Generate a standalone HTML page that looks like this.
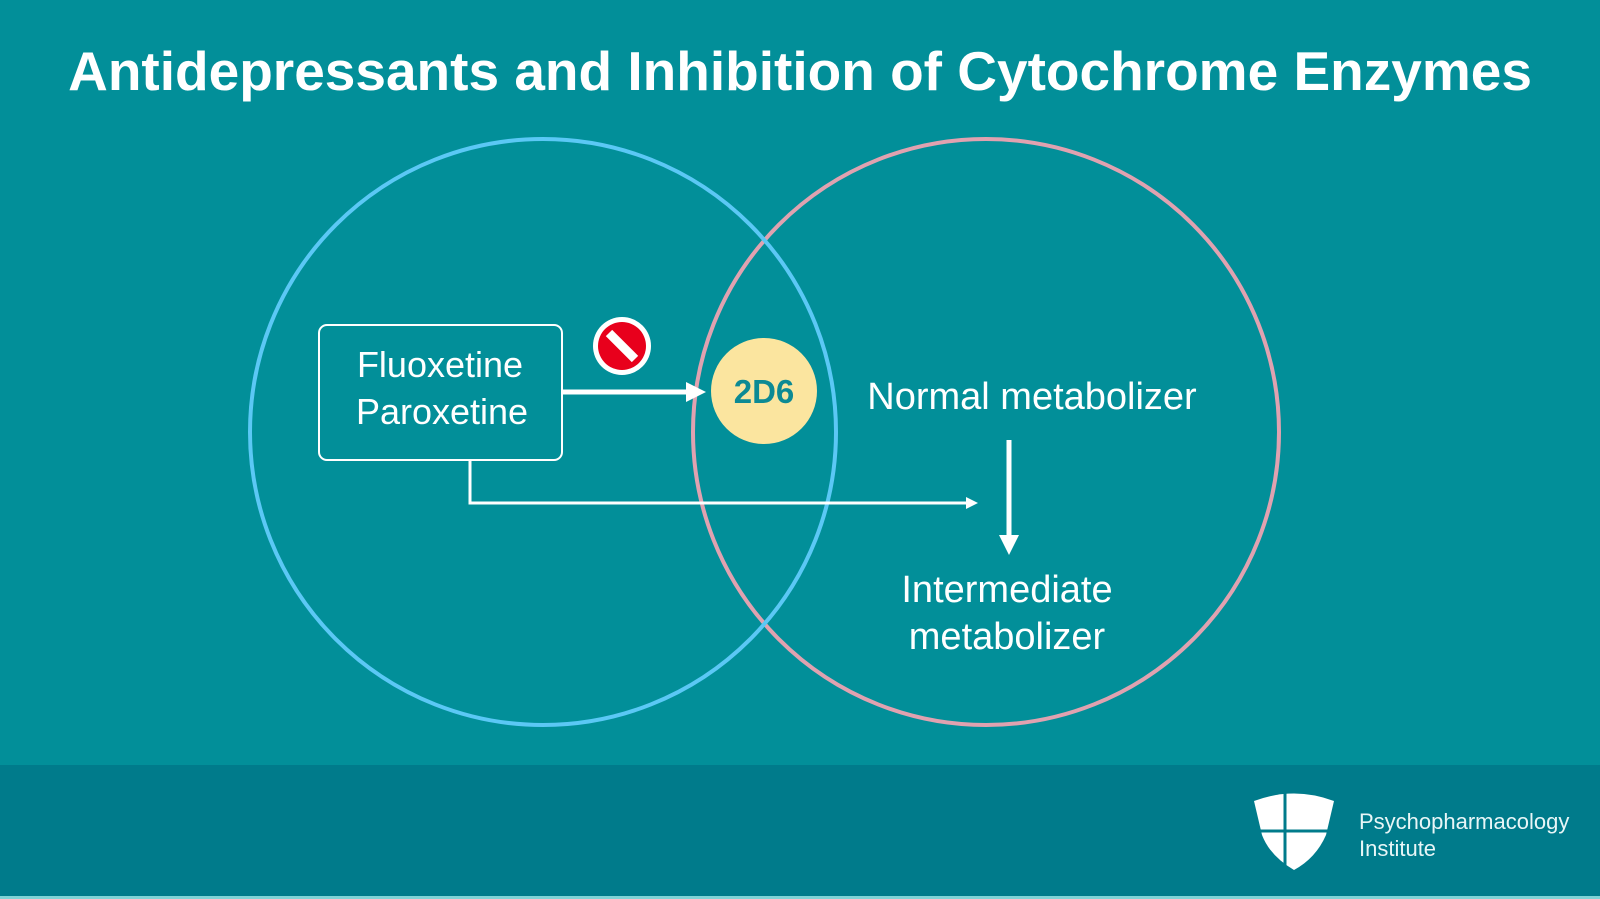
<!DOCTYPE html>
<html><head><style>
body{margin:0;width:1600px;height:899px;overflow:hidden;background:#018f99;font-family:"Liberation Sans",sans-serif;}
</style></head><body>
<svg width="1600" height="899" style="position:absolute;left:0;top:0">
<rect x="0" y="0" width="1600" height="765" fill="#028f99"/>
<rect x="0" y="765" width="1600" height="132" fill="#007b8b"/>
<rect x="0" y="896" width="1600" height="3" fill="#7fd3d6"/>
<text x="800" y="90" text-anchor="middle" fill="#fff" font-size="55" font-weight="bold" font-family="Liberation Sans, sans-serif">Antidepressants and Inhibition of Cytochrome Enzymes</text>
<circle cx="986" cy="432" r="293" fill="none" stroke="#e0a2b0" stroke-width="4"/>
<circle cx="543" cy="432" r="293" fill="none" stroke="#5bc8f5" stroke-width="4"/>
<rect x="319" y="325" width="243" height="135" rx="8" fill="none" stroke="#fff" stroke-width="2"/>
<text x="440" y="377" text-anchor="middle" fill="#fff" font-size="36">Fluoxetine</text>
<text x="442" y="424" text-anchor="middle" fill="#fff" font-size="36">Paroxetine</text>
<line x1="562" y1="392" x2="688" y2="392" stroke="#fff" stroke-width="5"/>
<polygon points="686,382 706,392 686,402" fill="#fff"/>
<circle cx="622" cy="346" r="29" fill="#fff"/>
<circle cx="622" cy="346" r="24" fill="#e8001c"/>
<line x1="609" y1="333" x2="635" y2="359" stroke="#fff" stroke-width="9"/>
<circle cx="764" cy="391" r="53" fill="#fbe59f"/>
<text x="764" y="403" text-anchor="middle" fill="#0c8a94" font-size="33" font-weight="bold">2D6</text>
<text x="1032" y="409" text-anchor="middle" fill="#fff" font-size="38">Normal metabolizer</text>
<polyline points="470,460 470,503 968,503" fill="none" stroke="#fff" stroke-width="3"/>
<polygon points="966,497 978,503 966,509" fill="#fff"/>
<line x1="1009" y1="440" x2="1009" y2="537" stroke="#fff" stroke-width="5"/>
<polygon points="999,535 1009,555 1019,535" fill="#fff"/>
<text x="1007" y="602" text-anchor="middle" fill="#fff" font-size="38">Intermediate</text>
<text x="1007" y="649" text-anchor="middle" fill="#fff" font-size="38">metabolizer</text>
<path d="M1254,801 Q1294,786 1334,801 L1326,835 Q1316,858 1294,870 Q1270,856 1262,835 Z" fill="#fff"/>
<line x1="1285" y1="790" x2="1285" y2="872" stroke="#007b8b" stroke-width="3"/>
<line x1="1254" y1="831" x2="1334" y2="831" stroke="#007b8b" stroke-width="3"/>
<text x="1359" y="829" fill="#e8f6f7" font-size="22">Psychopharmacology</text>
<text x="1359" y="856" fill="#e8f6f7" font-size="22">Institute</text>
</svg>
</body></html>
